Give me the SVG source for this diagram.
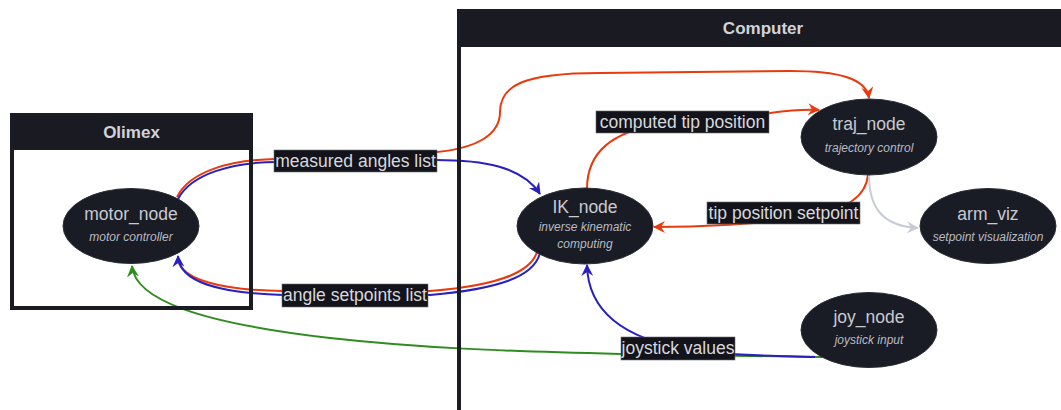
<svg xmlns="http://www.w3.org/2000/svg" width="1061" height="410" viewBox="0 0 1061 410">
  <style>
    .hdr { font-family: "Liberation Sans", Arial, sans-serif; font-size: 17px; font-weight: bold; fill: #d2d3d8; text-anchor: middle; }
    .title { font-family: "Liberation Sans", Arial, sans-serif; font-size: 17.5px; fill: #c9cad0; text-anchor: middle; }
    .sub { font-family: "Liberation Sans", Arial, sans-serif; font-size: 12px; font-style: italic; fill: #b9bac2; text-anchor: middle; }
    .node { fill: #1a1c25; stroke: #2a2c36; stroke-width: 1; }
    .edge { fill: none; stroke-width: 2; }
    .lblbox { fill: #13141b; stroke: #6a6b72; stroke-width: 0.6; }
    .lbl { font-family: "Liberation Sans", Arial, sans-serif; font-size: 17.5px; fill: #d8d8dc; text-anchor: middle; }
    .frame { fill: none; stroke: #1b1c23; stroke-width: 4; }
  </style>
  <defs>
    <marker id="arr-blue" viewBox="0 0 12 12" refX="11" refY="6" markerWidth="12" markerHeight="12" markerUnits="userSpaceOnUse" orient="auto">
      <path d="M0,0 L12,6 L0,12 L4,6 Z" fill="#2a1fbf"/>
    </marker>
    <marker id="arr-red" viewBox="0 0 12 12" refX="11" refY="6" markerWidth="12" markerHeight="12" markerUnits="userSpaceOnUse" orient="auto">
      <path d="M0,0 L12,6 L0,12 L4,6 Z" fill="#e83a0c"/>
    </marker>
    <marker id="arr-green" viewBox="0 0 12 12" refX="11" refY="6" markerWidth="12" markerHeight="12" markerUnits="userSpaceOnUse" orient="auto">
      <path d="M0,0 L12,6 L0,12 L4,6 Z" fill="#2e8d1e"/>
    </marker>
    <marker id="arr-grey" viewBox="0 0 12 12" refX="11" refY="6" markerWidth="12" markerHeight="12" markerUnits="userSpaceOnUse" orient="auto">
      <path d="M0,0 L12,6 L0,12 L4,6 Z" fill="#c8ccd6"/>
    </marker>
  </defs>

  <rect x="0" y="0" width="1061" height="410" fill="#ffffff"/>

  <!-- containers: body and header -->
  <g id="olimex">
    <rect x="12" y="115" width="239" height="193" fill="#ffffff"/>
    <rect x="10" y="113" width="243" height="37" fill="#1a1b22"/>
    <text class="hdr" x="131.5" y="138">Olimex</text>
  </g>
  <g id="computer">
    <rect x="459" y="11" width="612" height="420" fill="#ffffff"/>
    <rect x="457" y="9" width="614" height="38" fill="#1a1b22"/>
    <text class="hdr" x="763" y="34">Computer</text>
  </g>

  <!-- connectors -->
  <g id="connectors">
    <!-- motor_node -> traj_node -->
    <path class="edge" stroke="#e83a0c" d="M177,197 C190,171 230,160 276,159 L437,152 C478,148 500,134 500,112 C500,86 522,73 600,73 L790,71 C838,71 866,78 869,98" marker-end="url(#arr-red)"/>
    <!-- motor_node -> IK_node -->
    <path class="edge" stroke="#2a1fbf" d="M178,199 C191,174 232,162 278,162 L436,160 C482,160 522,166 540,194" marker-end="url(#arr-blue)"/>
    <!-- IK_node -> motor_node (two parallel links) -->
    <path class="edge" stroke="#e83a0c" d="M537,252 C530,274 494,286 430,291 L283,291 C218,290 182,279 178,260"/>
    <path class="edge" stroke="#2a1fbf" d="M540,253 C534,277 498,289 430,295 L283,295 C218,293 179,282 178,256" marker-end="url(#arr-blue)"/>
    <!-- IK_node -> traj_node -->
    <path class="edge" stroke="#e83a0c" d="M587,189 C587,152 612,132 660,124 L770,113 C792,110 806,109 819,110" marker-end="url(#arr-red)"/>
    <!-- traj_node -> IK_node -->
    <path class="edge" stroke="#e83a0c" d="M868,175 C866,195 850,210 800,218 C760,224 700,227 654,227" marker-end="url(#arr-red)"/>
    <!-- traj_node -> arm_viz -->
    <path class="edge" stroke="#c8ccd6" d="M869,175 C869,205 880,226 918,228" marker-end="url(#arr-grey)"/>
    <!-- joy_node -> motor_node -->
    <path class="edge" stroke="#2e8d1e" d="M822,357 L620,354 C500,351 420,348 330,338 C200,323 135,300 132,266" marker-end="url(#arr-green)"/>
    <!-- joy_node -> IK_node -->
    <path class="edge" stroke="#2a1fbf" d="M815,357 C780,356 730,356 690,350 C630,340 588,315 587,265" marker-end="url(#arr-blue)"/>

    <!-- labels -->
    <rect class="lblbox" x="274" y="150" width="163" height="22"/>
    <text class="lbl" x="355.5" y="167">measured angles list</text>
    <rect class="lblbox" x="282" y="284" width="146" height="23"/>
    <text class="lbl" x="355" y="301">angle setpoints list</text>
    <rect class="lblbox" x="596" y="111" width="173" height="22"/>
    <text class="lbl" x="682.5" y="128">computed tip position</text>
    <rect class="lblbox" x="707" y="202" width="153" height="22"/>
    <text class="lbl" x="783.5" y="219">tip position setpoint</text>
    <rect class="lblbox" x="621" y="337" width="114" height="23"/>
    <text class="lbl" x="678" y="354">joystick values</text>
  </g>

  <!-- container borders drawn over the connectors -->
  <rect class="frame" x="12" y="115" width="239" height="193"/>
  <rect class="frame" x="459" y="11" width="612" height="420"/>

  <!-- nodes -->
  <g id="motor_node">
    <ellipse class="node" cx="131" cy="226" rx="68" ry="37.5"/>
    <text class="title" x="131" y="220">motor_node</text>
    <text class="sub" x="131" y="241">motor controller</text>
  </g>
  <g id="IK_node">
    <ellipse class="node" cx="585" cy="226" rx="68" ry="38"/>
    <text class="title" x="585" y="213">IK_node</text>
    <text class="sub" x="585" y="231">inverse kinematic</text>
    <text class="sub" x="585" y="248">computing</text>
  </g>
  <g id="traj_node">
    <ellipse class="node" cx="869" cy="137" rx="68" ry="38"/>
    <text class="title" x="869" y="130">traj_node</text>
    <text class="sub" x="869" y="152">trajectory control</text>
  </g>
  <g id="arm_viz">
    <ellipse class="node" cx="988" cy="226" rx="68" ry="37.5"/>
    <text class="title" x="988" y="220">arm_viz</text>
    <text class="sub" x="988" y="241">setpoint visualization</text>
  </g>
  <g id="joy_node">
    <ellipse class="node" cx="869" cy="330" rx="68" ry="37.5"/>
    <text class="title" x="869" y="323">joy_node</text>
    <text class="sub" x="869" y="344">joystick input</text>
  </g>
</svg>
